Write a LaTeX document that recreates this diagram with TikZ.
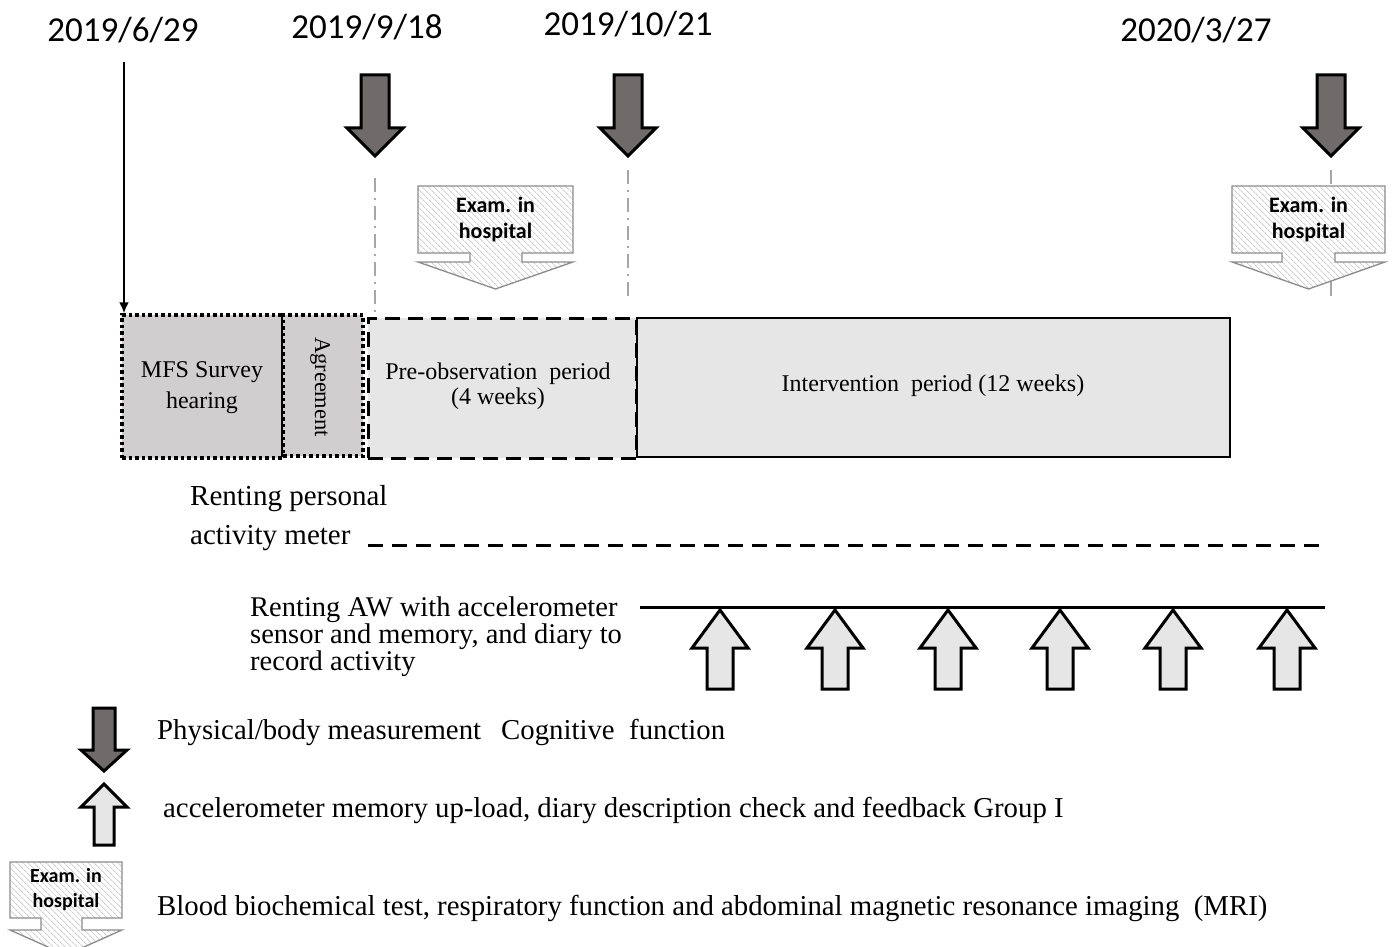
\documentclass[tikz,border=0pt]{standalone}
\usepackage{fontspec}
\setmainfont{Liberation Serif}
\newfontfamily\calibrifont{Carlito}
\usetikzlibrary{patterns.meta,arrows.meta}
\definecolor{darkfill}{HTML}{6F6B6A}
\definecolor{boxgray}{HTML}{D0CECE}
\definecolor{lightbox}{HTML}{E7E6E6}
\definecolor{hatchgray}{HTML}{CFCFCF}
\definecolor{exborder}{HTML}{8C8C8C}
\definecolor{guide}{HTML}{A6A6A6}
\tikzset{
  darkarrow/.style={draw=black, line width=3pt, fill=darkfill, line join=miter},
  lightarrow/.style={draw=black, line width=3pt, fill=lightbox, line join=miter},
  examshape/.style={draw=exborder, line width=1.3pt, preaction={fill=white},
    pattern={Lines[angle=-45,distance=4pt,line width=0.9pt]}, pattern color=hatchgray},
  examtext/.style={inner sep=0pt, align=center, font=\calibrifont\bfseries\fontsize{22}{26}\selectfont},
  datelabel/.style={inner sep=0pt, font=\calibrifont\fontsize{35}{40}\selectfont},
  guideline/.style={draw=guide, line width=2pt, dash pattern=on 14pt off 6pt on 2pt off 6pt},
  dotbox/.style={draw=black, line width=3.5pt, dash pattern=on 3.5pt off 3pt, fill=boxgray, inner sep=0pt},
  dashbox/.style={draw=black, line width=3pt, dash pattern=on 15pt off 8pt, fill=lightbox, inner sep=0pt},
  solidbox/.style={draw=black, line width=2pt, fill=lightbox, inner sep=0pt},
  boxtext/.style={font=\fontsize{24}{31}\selectfont, align=center},
  plaintext/.style={inner sep=0pt, align=left, font=\fontsize{28.5}{25.5}\selectfont},
  legendtext/.style={inner sep=0pt, anchor=west, font=\fontsize{28.8}{30}\selectfont}
}
% x, ytop, yhead, ytip, shaft half width, head half width
\newcommand{\DnArrowShape}[6]{%
  \draw[darkarrow] (#1-#5,#2) -- (#1+#5,#2) -- (#1+#5,#3) -- (#1+#6,#3) -- (#1,#4)
    -- (#1-#6,#3) -- (#1-#5,#3) -- cycle;}
% x, ytip, yhead, ybottom, shaft half width, head half width
\newcommand{\UpArrowShape}[6]{%
  \draw[lightarrow] (#1,#2) -- (#1+#6,#3) -- (#1+#5,#3) -- (#1+#5,#4) -- (#1-#5,#4)
    -- (#1-#5,#3) -- (#1-#6,#3) -- cycle;}
% left, right, ytop, yrectbottom, stemleft, stemright, ywide, ytip
\newcommand{\ExamShape}[8]{%
  \draw[examshape] (#1,#3) -- (#2,#3) -- (#2,#4) -- (#6,#4) -- (#6,#7) -- (#2,#7)
    -- ({(#1+#2)/2},#8) -- (#1,#7) -- (#5,#7) -- (#5,#4) -- (#1,#4) -- cycle;}
\begin{document}
\begin{tikzpicture}[x=1pt,y=-1pt]
\useasboundingbox (0,0) rectangle (1395,947);
\clip (0,0) rectangle (1395,947);

% dates
\node[datelabel] (d1) at (123,30) {2019/6/29};
\node[datelabel] (d2) at (367,27) {2019/9/18};
\node[datelabel] (d3) at (628,24) {2019/10/21};
\node[datelabel] (d4) at (1196,30) {2020/3/27};

% guide lines
\draw[guideline] (375,178) -- (375,312);
\draw[guideline] (628,170) -- (628,302);
\draw[guideline] (1331,170) -- (1331,302);

% measurement arrows
\DnArrowShape{375}{75}{128}{156}{14}{28}
\DnArrowShape{628}{75}{128}{156}{14}{28}
\DnArrowShape{1331}{75}{128}{156}{14}{28}

% exam callouts
\ExamShape{418}{573}{186}{253}{470}{522}{262}{289}
\node[examtext] (ex1) at (495.5,220) {Exam. in\\hospital};
\ExamShape{1232}{1385}{186}{253}{1282}{1335}{262}{289}
\node[examtext] (ex2) at (1308.5,220) {Exam. in\\hospital};

% period boxes
\node[dashbox, minimum width=268pt, minimum height=140pt] (pre) at (502,388) {};
\node[boxtext] at (498,386) {Pre-observation\ \ period\\[-6pt](4 weeks)};
\node[solidbox, minimum width=593pt, minimum height=139pt] (int) at (933.5,387.5) {};
\node[boxtext] at (933,386) {Intervention\ \ period (12 weeks)};
\node[dotbox, minimum width=161pt, minimum height=143pt] (mfs) at (202.5,386.5) {};
\node[boxtext] at (202,388) {MFS Survey\\hearing};
\node[dotbox, minimum width=80pt, minimum height=141pt] (agr) at (323,385.5) {};
\node[boxtext, rotate=-90, font=\fontsize{22.5}{26}\selectfont] at (320,387) {Agreement};

% start arrow
\coordinate (s1) at (124,62);
\draw[line width=2pt, -{Latex[length=11pt,width=10pt]}] (s1) -- (s1 |- mfs.north);

% activity meter
\node[plaintext, anchor=west, font=\fontsize{29}{39}\selectfont] (rent1) at (190,518) {Renting personal\\activity meter};
\coordinate (am1) at (368,545);
\coordinate (am2) at (1325,545);
\draw[line width=3pt, dash pattern=on 15pt off 9pt] (am1) -- (am2);

% AW
\node[plaintext, anchor=west] (rent2) at (250,637) {Renting AW with accelerometer\\sensor and memory, and diary to\\record activity};
\coordinate (aw1) at (640,607);
\coordinate (aw2) at (1325,607);
\draw[line width=3pt] (aw1) -- (aw2);
\foreach \xx in {720,835,948,1060,1173,1287} {
  \UpArrowShape{\xx}{610}{648}{689}{13}{28}
}

% legend
\DnArrowShape{104}{708}{750}{771}{11}{23}
\node[legendtext] (l1) at (157,732) {Physical/body measurement\hspace{20pt}Cognitive\ \ function};
\UpArrowShape{104}{784}{807}{845}{10}{23}
\node[legendtext] (l2) at (163,810) {accelerometer memory up-load, diary description check and feedback Group I};
\ExamShape{10}{122}{862}{918}{41}{82}{930}{955}
\node[examtext, font=\calibrifont\bfseries\fontsize{20}{25}\selectfont] (ex3) at (66,890) {Exam. in\\hospital};
\node[legendtext] (l3) at (157,908) {Blood biochemical test, respiratory function and abdominal magnetic resonance imaging\ \ (MRI)};
\end{tikzpicture}
\end{document}
